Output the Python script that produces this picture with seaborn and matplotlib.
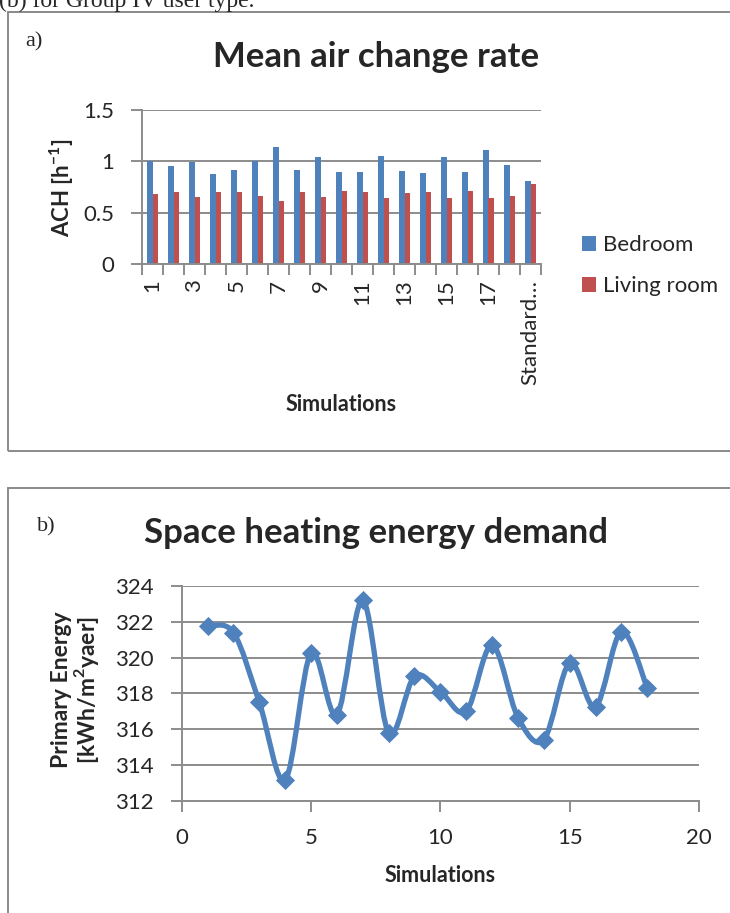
import numpy as np
import pandas as pd
import matplotlib
matplotlib.use("Agg")
import matplotlib.pyplot as plt
import seaborn as sns
from matplotlib.path import Path
from matplotlib.patches import PathPatch, Rectangle
from matplotlib.ticker import FuncFormatter

# data
simulations = [str(i) for i in range(1, 19)] + ["Standard\u2026"]
bedroom = [1.00, 0.96, 0.99, 0.875, 0.92, 1.00, 1.14, 0.92, 1.045, 0.90,
           0.895, 1.055, 0.91, 0.885, 1.045, 0.90, 1.115, 0.97, 0.81]
living_room = [0.68, 0.70, 0.65, 0.70, 0.70, 0.66, 0.62, 0.70, 0.65, 0.71,
               0.70, 0.64, 0.695, 0.70, 0.64, 0.71, 0.64, 0.66, 0.78]

sim_numbers = list(range(1, 19))
primary_energy = [321.75, 321.4, 317.5, 313.15, 320.25, 316.8, 323.2, 315.8, 318.95,
                  318.1, 317.0, 320.7, 316.65, 315.4, 319.7, 317.25, 321.45, 318.3]

BLUE = "#4F81BD"
RED = "#C0504D"
GRID = "#8C8C8C"

sns.set_style("white")
plt.rcParams['font.family'] = ['Lato', 'DejaVu Sans']
plt.rcParams['mathtext.fontset'] = 'custom'
plt.rcParams['mathtext.rm'] = 'Lato'
plt.rcParams['mathtext.bf'] = 'Lato:bold'

W, H = 730, 913
fig = plt.figure(figsize=(W / 100, H / 100), dpi=100)


def fx(px):
    return px / W


def fy(py):
    return 1 - py / H


# frames around the two charts
for (x0, y0, x1, y1) in [(8, 12, 760, 451), (8, 488, 760, 940)]:
    fig.patches.append(Rectangle((fx(x0), fy(y1)), fx(x1 - x0), (y1 - y0) / H,
                                 transform=fig.transFigure, fill=False,
                                 edgecolor="#8A8A8A", lw=1.4))

fig.text(fx(-1), fy(7), "(b) for Group IV user type.", family="Liberation Serif",
         fontsize=17, va="baseline", ha="left")

# ---------- a) Mean air change rate ----------
ax1 = fig.add_axes([fx(142), fy(264.3), fx(541 - 142), 154.3 / H])
df = pd.DataFrame({"Simulation": simulations * 2,
                   "ACH": bedroom + living_room,
                   "Room": ["Bedroom"] * len(simulations) + ["Living room"] * len(simulations)})
sns.barplot(data=df, x="Simulation", y="ACH", hue="Room", palette=[BLUE, RED],
            width=0.57, ax=ax1, saturation=1, edgecolor="none")
ax1.set_xlim(-0.5, len(simulations) - 0.5)
ax1.set_ylim(0, 1.5)
ax1.set_yticks([0, 0.5, 1, 1.5])
ax1.yaxis.set_major_formatter(FuncFormatter(lambda v, p: f"{v:g}"))
ax1.yaxis.grid(True, color=GRID, lw=1.4)
ax1.set_axisbelow(True)
ax1.set_xticks(np.arange(-0.5, len(simulations), 1))
ax1.set_xticklabels([])
ax1.set_xticks(np.arange(0, len(simulations), 2), minor=True)
ax1.set_xticklabels(simulations[::2], minor=True, rotation=90)
ax1.tick_params(axis="x", which="major", length=8, width=1.4, color=GRID, direction="out", bottom=True)
ax1.tick_params(axis="x", which="minor", length=0, pad=11, labelsize=16)
ax1.tick_params(axis="y", length=8, width=1.4, color=GRID, direction="out", left=True, pad=12, labelsize=16)
for s in ["top", "right"]:
    ax1.spines[s].set_visible(False)
for s in ["left", "bottom"]:
    ax1.spines[s].set_color(GRID)
    ax1.spines[s].set_linewidth(1.4)
ax1.set_xlabel("")
ax1.set_ylabel("")
fig.text(fx(62), fy(187.5), r"ACH [h$^{\mathbf{-1}}$]", rotation=90, fontsize=16,
         fontweight="bold", ha="center", va="center")
fig.text(fx(341.5), fy(404), "Simulations", fontsize=15.5, fontweight="bold",
         ha="center", va="center")
fig.text(fx(376), fy(57), "Mean air change rate", fontsize=25, fontweight="bold",
         ha="center", va="center")
fig.text(fx(25), fy(42), "a)", family="Liberation Serif", fontsize=16,
         ha="left", va="center")
handles, labels = ax1.get_legend_handles_labels()
ax1.legend(handles, labels, loc="center left", bbox_to_anchor=(fx(582), fy(265.5)),
           bbox_transform=fig.transFigure, frameon=False, fontsize=16,
           handlelength=0.65, handleheight=0.65, handletextpad=0.3,
           labelspacing=0.95, borderpad=0, borderaxespad=0)

# ---------- b) Space heating energy demand ----------
ax2 = fig.add_axes([fx(181.7), fy(800.7), fx(699 - 181.7), 214.7 / H])


def smooth_path(xs, ys):
    pts = np.column_stack([xs, ys]).astype(float)
    n = len(pts)
    verts = [pts[0]]
    codes = [Path.MOVETO]
    for i in range(n - 1):
        p0 = pts[max(i - 1, 0)]
        p1 = pts[i]
        p2 = pts[i + 1]
        p3 = pts[min(i + 2, n - 1)]
        verts += [p1 + (p2 - p0) / 6, p2 - (p3 - p1) / 6, p2]
        codes += [Path.CURVE4] * 3
    return Path(verts, codes)


ax2.add_patch(PathPatch(smooth_path(sim_numbers, primary_energy), facecolor="none",
                        edgecolor=BLUE, lw=3.8, capstyle="round", joinstyle="round", zorder=3))
sns.scatterplot(x=sim_numbers, y=primary_energy, marker="D", s=95, color=BLUE,
                edgecolor=BLUE, linewidth=0, ax=ax2, zorder=4)
ax2.set_xlim(0, 20)
ax2.set_ylim(312, 324)
ax2.set_xticks([0, 5, 10, 15, 20])
ax2.set_yticks(np.arange(312, 325, 2))
ax2.yaxis.grid(True, color=GRID, lw=1.4)
ax2.set_axisbelow(True)
ax2.tick_params(axis="both", length=8, width=1.4, color=GRID, direction="out",
                left=True, bottom=True, pad=12, labelsize=16)
for s in ["top", "right"]:
    ax2.spines[s].set_visible(False)
for s in ["left", "bottom"]:
    ax2.spines[s].set_color(GRID)
    ax2.spines[s].set_linewidth(1.4)
fig.text(fx(76), fy(690), "Primary Energy\n" + r"[kWh/m$^{\mathbf{2}}$yaer]", rotation=90,
         fontsize=16.5, fontweight="bold", ha="center", va="center", linespacing=1.0)
fig.text(fx(440), fy(875), "Simulations", fontsize=15.5, fontweight="bold",
         ha="center", va="center")
fig.text(fx(376), fy(533), "Space heating energy demand", fontsize=25, fontweight="bold",
         ha="center", va="center")
fig.text(fx(37), fy(527), "b)", family="Liberation Serif", fontsize=16,
         ha="left", va="center")

fig.savefig("out.png", dpi=100)
